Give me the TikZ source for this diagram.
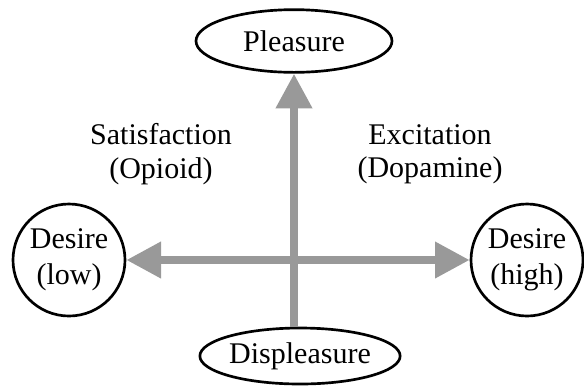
\documentclass[tikz,border=0pt]{standalone}
\usepackage{fontspec}
\setmainfont{Liberation Serif}
\usetikzlibrary{arrows.meta}
\usetikzlibrary{shapes.geometric}
\usetikzlibrary{positioning}
\definecolor{axisgray}{gray}{0.6}
\tikzset{txt/.style = {font = \fontsize{22.5}{27}\selectfont, align = center, inner sep = 0}}
\tikzset{note/.style = {txt, font = \fontsize{22.5}{25}\selectfont}}
\tikzset{oval/.style = {txt, draw, ellipse, line width = 2pt}}
\tikzset{circ/.style = {txt, draw, circle, line width = 2pt, minimum size = 84pt}}
\tikzset{axis/.style = {axisgray, line width = 6pt}}
\tikzset{Big/.tip = {Triangle[length = 26pt, width = 26pt]}}

\begin{document}
\begin{tikzpicture}[x = 0.75pt, y = -0.75pt]
      \useasboundingbox (0, 0) rectangle (584, 387);

      \node [oval, minimum width = 147pt, minimum height = 47pt] at (294, 41) (pleasure) {Pleasure};
      \node [oval, minimum width = 150pt, minimum height = 42pt] at (300, 356) (displeasure) {Displeasure};
      \node [circ] at (69, 260) (low) {Desire\\(low)};
      \node [circ] at (527, 260) (high) {Desire\\(high)};

      \node [note] at (161, 154) (satisfaction) {Satisfaction\\(Opioid)};
      \node [note] at (430, 154) (excitation) {Excitation\\(Dopamine)};

      % axes drawn last, tips touching the outlines
      \draw [axis, -Big] (displeasure.north -| pleasure.south) -- (pleasure.south);
      \draw [axis, Big-Big] (low) -- (high);
    \end{tikzpicture}
\end{document}
